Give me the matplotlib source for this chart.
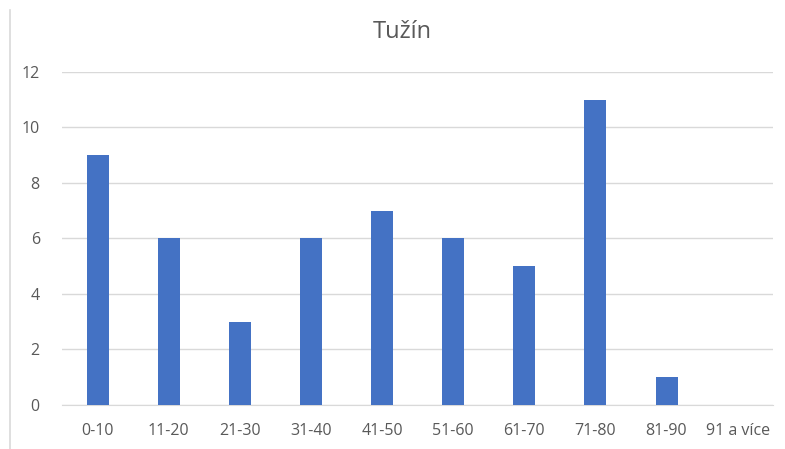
import matplotlib.pyplot as plt
from matplotlib.lines import Line2D

categories = ['0-10', '11-20', '21-30', '31-40', '41-50',
              '51-60', '61-70', '71-80', '81-90', '91 a více']
counts = [9, 6, 3, 6, 7, 6, 5, 11, 1, 0]

plt.rcParams['font.family'] = ['Open Sans', 'DejaVu Sans']

fig = plt.figure(figsize=(7.85, 4.49), dpi=100)
ax = fig.add_axes([0.079, 0.098, 0.906, 0.742])

x = range(len(categories))
ax.bar(x, counts, width=0.31, color='#4472C4', zorder=3)

ax.set_xlim(-0.5, len(categories) - 0.5)
ax.set_ylim(0, 12)
ax.set_yticks(range(0, 13, 2))
ax.set_xticks(list(x))
ax.set_xticklabels(categories)

ax.grid(axis='y', color='#D9D9D9', linewidth=1, zorder=0)
for side in ['top', 'right', 'left']:
    ax.spines[side].set_visible(False)
ax.spines['bottom'].set_color('#D9D9D9')
ax.tick_params(axis='both', length=0, labelsize=11.5, colors='#595959')
ax.tick_params(axis='x', pad=13)
ax.tick_params(axis='y', pad=16)

fig.suptitle('Tužín', x=0.513, y=0.955, fontsize=17, color='#595959')

# thin border line on the left edge of the chart area
fig.add_artist(Line2D([0.013, 0.013], [0.0, 0.978], color='#D9D9D9', linewidth=1.2,
                      transform=fig.transFigure))

fig.savefig('out.png', dpi=100)
